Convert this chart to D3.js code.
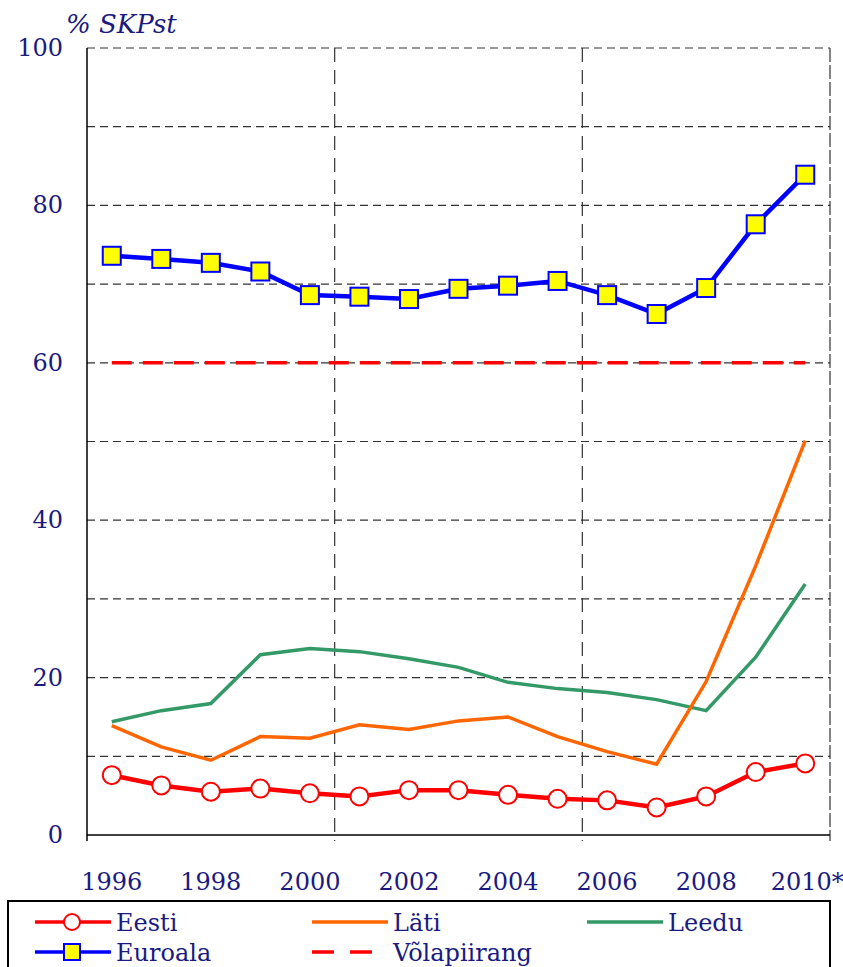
<!DOCTYPE html>
<html>
<head>
<meta charset="utf-8">
<script src="https://cdn.jsdelivr.net/npm/d3@7"></script>
<style>
  body { margin: 0; background: #fff; }
  text { font-family: "DejaVu Serif", Georgia, serif; fill: #1a1a80; }
</style>
</head>
<body>
<svg width="843" height="967"></svg>
<script>
var years = [1996, 1997, 1998, 1999, 2000, 2001, 2002, 2003, 2004, 2005, 2006, 2007, 2008, 2009, 2010];
var yearLabels = ["1996", "1998", "2000", "2002", "2004", "2006", "2008", "2010*"];
var yTicks = [0, 20, 40, 60, 80, 100];

var eesti   = [7.6, 6.3, 5.5, 5.9, 5.3, 4.9, 5.7, 5.7, 5.1, 4.6, 4.4, 3.5, 4.9, 8.0, 9.1];
var lati    = [13.9, 11.2, 9.5, 12.5, 12.3, 14.0, 13.4, 14.5, 15.0, 12.5, 10.6, 9.0, 19.5, 34.2, 50.1];
var leedu   = [14.4, 15.8, 16.7, 22.9, 23.7, 23.3, 22.4, 21.3, 19.4, 18.6, 18.1, 17.2, 15.8, 22.6, 31.9];
var euroala = [73.6, 73.2, 72.7, 71.6, 68.6, 68.4, 68.1, 69.4, 69.8, 70.4, 68.6, 66.2, 69.5, 77.6, 83.9];
var volapiirang = 60;

var svg = d3.select("svg");
var plotLeft = 87, plotRight = 830, plotTop = 48, plotBottom = 835;

var x = d3.scaleBand().domain(years).range([plotLeft, plotRight]).padding(0);
var y = d3.scaleLinear().domain([0, 100]).range([plotBottom, plotTop]);
var cx = function(i) { return x(years[i]) + x.bandwidth() / 2; };

// horizontal grid
svg.append("g").selectAll("line")
    .data(d3.range(10, 101, 10))
  .enter().append("line")
    .attr("x1", plotLeft).attr("x2", plotRight)
    .attr("y1", function(d) { return y(d); }).attr("y2", function(d) { return y(d); })
    .attr("stroke", "#333").attr("stroke-width", 1.2)
    .attr("stroke-dasharray", "8,5");

// vertical grid every 5 years
svg.append("g").selectAll("line")
    .data([5, 10, 15])
  .enter().append("line")
    .attr("x1", function(d) { return plotLeft + d * x.bandwidth(); })
    .attr("x2", function(d) { return plotLeft + d * x.bandwidth(); })
    .attr("y1", plotTop).attr("y2", plotBottom + 6)
    .attr("stroke", "#333").attr("stroke-width", 1.2)
    .attr("stroke-dasharray", function(d) { return d == 15 ? "14,3" : "14,8"; });

// axes lines
svg.append("line").attr("x1", plotLeft).attr("x2", plotLeft).attr("y1", plotTop).attr("y2", plotBottom + 6)
    .attr("stroke", "#000").attr("stroke-width", 1.5);
svg.append("line").attr("x1", plotLeft).attr("x2", plotRight).attr("y1", plotBottom).attr("y2", plotBottom)
    .attr("stroke", "#000").attr("stroke-width", 1.5);

// y labels
svg.append("g").selectAll("text")
    .data(yTicks)
  .enter().append("text")
    .attr("x", 63)
    .attr("y", function(d) { return y(d) + 8; })
    .attr("text-anchor", "end")
    .style("font-size", "24px")
    .text(function(d) { return d; });

// x labels
svg.append("g").selectAll("text")
    .data(yearLabels)
  .enter().append("text")
    .attr("x", function(d, i) { return cx(i * 2) + (i == 7 ? 2 : 0); })
    .attr("y", 890)
    .attr("text-anchor", "middle")
    .style("font-size", "24px")
    .text(function(d) { return d; });

svg.append("text")
    .attr("x", 66).attr("y", 33)
    .style("font-size", "26px").style("font-style", "italic")
    .text("% SKPst");

var line = d3.line()
    .x(function(d, i) { return cx(i); })
    .y(function(d) { return y(d); });

// limit line
svg.append("line")
    .attr("x1", cx(0)).attr("x2", cx(14))
    .attr("y1", y(volapiirang)).attr("y2", y(volapiirang))
    .attr("stroke", "#ff0000").attr("stroke-width", 3.5)
    .attr("stroke-dasharray", "20,11");

svg.append("path").datum(leedu).attr("d", line)
    .attr("fill", "none").attr("stroke", "#339966").attr("stroke-width", 3.5);
svg.append("path").datum(lati).attr("d", line)
    .attr("fill", "none").attr("stroke", "#ff6600").attr("stroke-width", 3.5);

svg.append("path").datum(eesti).attr("d", line)
    .attr("fill", "none").attr("stroke", "#ff0000").attr("stroke-width", 4.5);
svg.append("g").selectAll("circle")
    .data(eesti)
  .enter().append("circle")
    .attr("cx", function(d, i) { return cx(i); })
    .attr("cy", function(d) { return y(d); })
    .attr("r", 9)
    .attr("fill", "#fff").attr("stroke", "#ff0000").attr("stroke-width", 2);

svg.append("path").datum(euroala).attr("d", line)
    .attr("fill", "none").attr("stroke", "#0000ff").attr("stroke-width", 4.5);
svg.append("g").selectAll("rect")
    .data(euroala)
  .enter().append("rect")
    .attr("x", function(d, i) { return cx(i) - 9; })
    .attr("y", function(d) { return y(d) - 9; })
    .attr("width", 18).attr("height", 18)
    .attr("fill", "#ffff00").attr("stroke", "#0000ff").attr("stroke-width", 2);

// legend
svg.append("rect")
    .attr("x", 8).attr("y", 901).attr("width", 822).attr("height", 80)
    .attr("fill", "#fff").attr("stroke", "#000").attr("stroke-width", 2);

var legend = [
  {name: "Eesti", color: "#ff0000", x: 35, y: 922, marker: "circle"},
  {name: "Läti", color: "#ff6600", x: 312, y: 922},
  {name: "Leedu", color: "#339966", x: 587, y: 922},
  {name: "Euroala", color: "#0000ff", x: 35, y: 952, marker: "rect"},
  {name: "Võlapiirang", color: "#ff0000", x: 312, y: 952, dash: "22,16"}
];
var lg = svg.append("g").selectAll("g").data(legend).enter().append("g");
lg.append("line")
    .attr("x1", function(d) { return d.x; }).attr("x2", function(d) { return d.x + 76; })
    .attr("y1", function(d) { return d.y; }).attr("y2", function(d) { return d.y; })
    .attr("stroke", function(d) { return d.color; })
    .attr("stroke-width", 3.5)
    .attr("stroke-dasharray", function(d) { return d.dash || null; });
lg.filter(function(d) { return d.marker == "circle"; }).append("circle")
    .attr("cx", function(d) { return d.x + 37; }).attr("cy", function(d) { return d.y; })
    .attr("r", 8).attr("fill", "#fff").attr("stroke", "#ff0000").attr("stroke-width", 2);
lg.filter(function(d) { return d.marker == "rect"; }).append("rect")
    .attr("x", function(d) { return d.x + 29; }).attr("y", function(d) { return d.y - 8; })
    .attr("width", 16).attr("height", 16)
    .attr("fill", "#ffff00").attr("stroke", "#0000ff").attr("stroke-width", 2);
lg.append("text")
    .attr("x", function(d) { return d.x + 81; })
    .attr("y", function(d) { return d.y + 9; })
    .style("font-size", "24px")
    .text(function(d) { return d.name; });
</script>
</body>
</html>
